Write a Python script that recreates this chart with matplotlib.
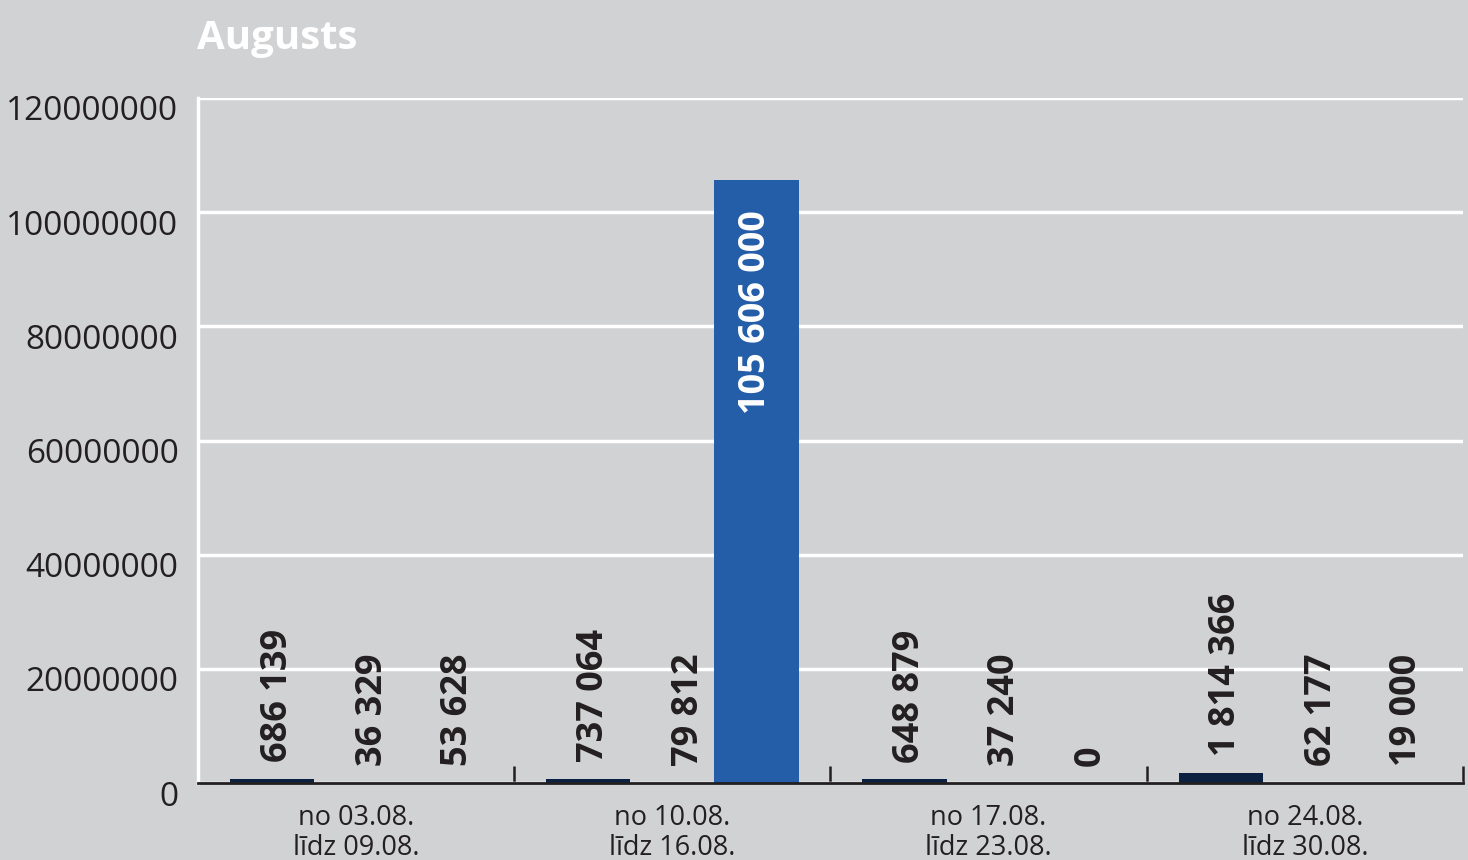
import matplotlib
matplotlib.use("Agg")
import matplotlib.pyplot as plt
import matplotlib.transforms as mtransforms
import numpy as np

title = "Augusts"
categories = ["no 03.08.\nlīdz 09.08.", "no 10.08.\nlīdz 16.08.",
              "no 17.08.\nlīdz 23.08.", "no 24.08.\nlīdz 30.08."]
series_1 = [686139, 737064, 648879, 1814366]
series_2 = [36329, 79812, 37240, 62177]
series_3 = [53628, 105606000, 0, 19000]
yticks = [0, 20000000, 40000000, 60000000, 80000000, 100000000, 120000000]

bg = "#d1d2d4"
text_dark = "#231f20"
colors = ["#0c2142", "#1f4f8f", "#245ea9"]
label_dx = [4, 12, 13]

plt.rcParams['font.family'] = ['Open Sans', 'DejaVu Sans']

fig = plt.figure(figsize=(14.68, 8.6), dpi=100, facecolor=bg)
ax = fig.add_axes([198/1468, 1-783/860, (1463-198)/1468, (783-98)/860])
ax.set_facecolor(bg)

x = np.arange(len(categories))
w = 0.266
all_series = [series_1, series_2, series_3]
for i, (vals, c) in enumerate(zip(all_series, colors)):
    pos = x + (i - 1) * w
    ax.bar(pos, vals, width=w, color=c, zorder=3)
    for px, v in zip(pos, vals):
        lab = f"{v:,}".replace(",", " ")
        if v > 50000000:
            ax.annotate(lab, (px, v), xytext=(0, -22), textcoords="offset points",
                        rotation=90, ha="center", va="top", color="white",
                        fontsize=26, fontweight="bold", zorder=4)
        else:
            ax.annotate(lab, (px, v), xytext=(label_dx[i], 12), textcoords="offset points",
                        rotation=90, ha="center", va="bottom", color=text_dark,
                        fontsize=26, fontweight="bold", zorder=4)

ax.set_xlim(-0.5, 3.5)
ax.set_ylim(0, 120000000)
ax.set_yticks(yticks)
ax.set_yticklabels([str(t) for t in yticks], fontsize=24, color=text_dark)
ax.tick_params(axis="y", length=0, pad=14)
off = mtransforms.ScaledTranslation(0, -10/100, fig.dpi_scale_trans)
for lbl in ax.get_yticklabels():
    lbl.set_transform(lbl.get_transform() + off)
ax.grid(axis="y", color="white", linewidth=2.5, zorder=0)

ax.set_xticks(x)
ax.set_xticklabels(categories, fontsize=19.5, color=text_dark, linespacing=1.08)
ax.tick_params(axis="x", which="major", length=0, pad=15)
ax.set_xticks([0.5, 1.5, 2.5, 3.5], minor=True)
ax.tick_params(axis="x", which="minor", direction="in", length=12, width=1.8, color=text_dark)

for s in ["top", "right"]:
    ax.spines[s].set_visible(False)
ax.spines["left"].set_color("white")
ax.spines["left"].set_linewidth(2.5)
ax.spines["bottom"].set_color(text_dark)
ax.spines["bottom"].set_linewidth(2)
ax.spines["bottom"].set_zorder(5)

fig.text(197/1468, 1-38/860, title, color="white", fontsize=29, fontweight="bold",
         ha="left", va="center")

fig.savefig("out.png", dpi=100, facecolor=bg)
